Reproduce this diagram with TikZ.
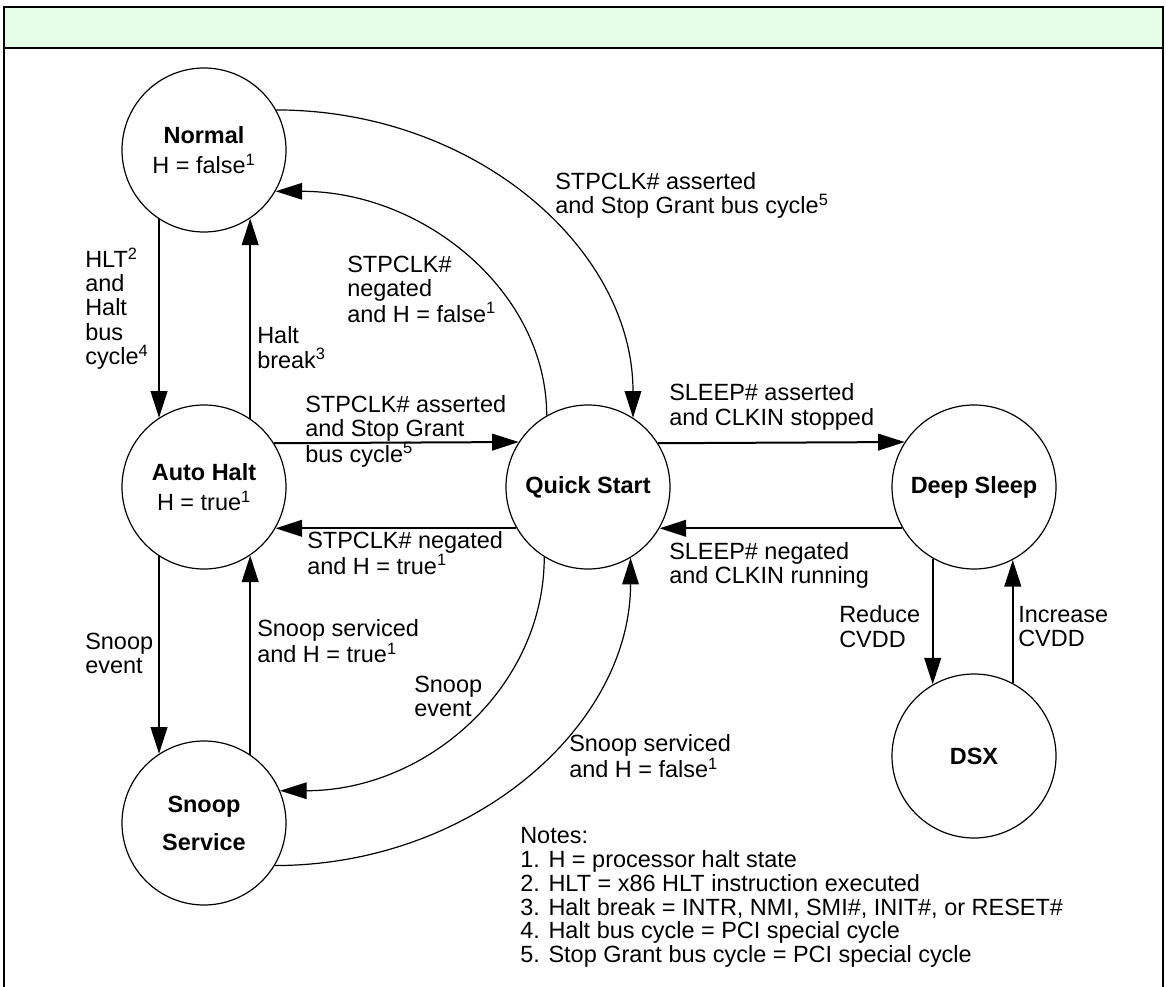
\documentclass[tikz,border=0pt]{standalone}
\usepackage{fontspec}
\setmainfont{Liberation Sans}
\usetikzlibrary{arrows.meta,calc}
\definecolor{hdrgreen}{RGB}{229,253,229}
\newcommand\lblsize{\fontsize{17.6}{18.2}\selectfont}
\newcommand\statesize{\fontsize{17.6}{22.5}\selectfont}
\newcommand\sps[1]{\textsuperscript{#1}}
\begin{document}
\begin{tikzpicture}[x=0.75pt,y=-0.75pt,
  state/.style={circle,draw,line width=0.9pt,minimum size=123pt,inner sep=0pt,align=center,font=\statesize},
  lbl/.style={anchor=west,align=left,inner sep=0pt,font=\lblsize},
  tip/.style={-{Triangle[length=20pt,width=12.5pt]}},
  arr/.style={tip,line width=1.5pt},
  arc/.style={tip,line width=0.9pt}]
\useasboundingbox (0,0) rectangle (1166,987);
% frame
\fill[hdrgreen] (4,7) rectangle (1163,48);
\draw[line width=1.5pt] (4,987) -- (4,7) -- (1163,7) -- (1163,987);
\draw[line width=1.5pt] (4,48) -- (1163,48);
% states
\node[state] (normal) at (204,150) {\textbf{Normal}\\H = false\sps{1}};
\node[state] (ah) at (204,487) {\textbf{Auto Halt}\\H = true\sps{1}};
\node[state,font=\fontsize{17.6}{28.5}\selectfont] (snoop) at (204,823) {\textbf{Snoop}\\\textbf{Service}};
\node[state] (qs) at (588,487) {\textbf{Quick Start}};
\node[state] (ds) at (974,487) {\textbf{Deep Sleep}};
\node[state] (dsx) at (974,756) {\textbf{DSX}};
% straight connectors
\draw[arr] (normal.-123.3) -- (ah.123.3);
\draw[arr] (ah.56.7) -- (normal.-56.7);
\draw[arr] (ah.-123.3) -- (snoop.123.3);
\draw[arr] (snoop.56.7) -- (ah.-56.7);
\draw[arr] (ah.32.4) -- (qs.147.6);
\draw[arr] (qs.-150) -- (ah.-30);
\draw[arr] (qs.32.4) -- (ds.147.6);
\draw[arr] (ds.-150) -- (qs.-30);
\draw[arr] (ds.-120.8) -- (dsx.120.8);
\draw[arr] (dsx.62.4) -- (ds.-62.4);
% curved connectors
\draw[arc] (normal.29.4) .. controls ($(normal.29.4)+(198,0)$) and ($(qs.57.3)+(0,-170)$) .. (qs.57.3);
\draw[arc] (qs.120.6) .. controls ($(qs.120.6)+(0,-123)$) and ($(normal.-30.8)+(149,0)$) .. (normal.-30.8);
\draw[arc] (qs.-122.3) .. controls ($(qs.-122.3)+(0,130)$) and ($(snoop.23.7)+(147,0)$) .. (snoop.23.7);
\draw[arc] (snoop.-31.1) .. controls ($(snoop.-31.1)+(198,0)$) and ($(qs.-59.5)+(0,168)$) .. (qs.-59.5);
% labels
\node[lbl] (l1) at (555,195.5) {STPCLK\# asserted\\and Stop Grant bus cycle\sps{5}};
\node[lbl] (l2) at (85,308.5) {HLT\sps{2}\\and\\Halt\\bus\\cycle\sps{4}};
\node[lbl] (l3) at (257,347.5) {Halt\\break\sps{3}};
\node[lbl] (l4) at (347,289) {STPCLK\#\\negated\\and H = false\sps{1}};
\node[lbl] (l5) at (305,431) {STPCLK\# asserted\\and Stop Grant\\bus cycle\sps{5}};
\node[lbl] (l6) at (307,553) {STPCLK\# negated\\and H = true\sps{1}};
\node[lbl] (l7) at (669,407) {SLEEP\# asserted\\and CLKIN stopped};
\node[lbl] (l8) at (669,565.5) {SLEEP\# negated\\and CLKIN running};
\node[lbl] (l9) at (839,626.5) {Reduce\\CVDD};
\node[lbl] (l10) at (1018,626.5) {Increase\\CVDD};
\node[lbl] (l11) at (85,653.5) {Snoop\\event};
\node[lbl] (l12) at (257,641.5) {Snoop serviced\\and H = true\sps{1}};
\node[lbl] (l13) at (414,696.5) {Snoop\\event};
\node[lbl] (l14) at (569,756.5) {Snoop serviced\\and H = false\sps{1}};
\node[lbl,font=\fontsize{17.6}{17.85}\selectfont] (notes) at (520,897.5) {Notes:\\1. H = processor halt state\\2. HLT = x86 HLT instruction executed\\3. Halt break = INTR, NMI, SMI\#, INIT\#, or RESET\#\\4. Halt bus cycle = PCI special cycle\\5. Stop Grant bus cycle = PCI special cycle};
\end{tikzpicture}
\end{document}
